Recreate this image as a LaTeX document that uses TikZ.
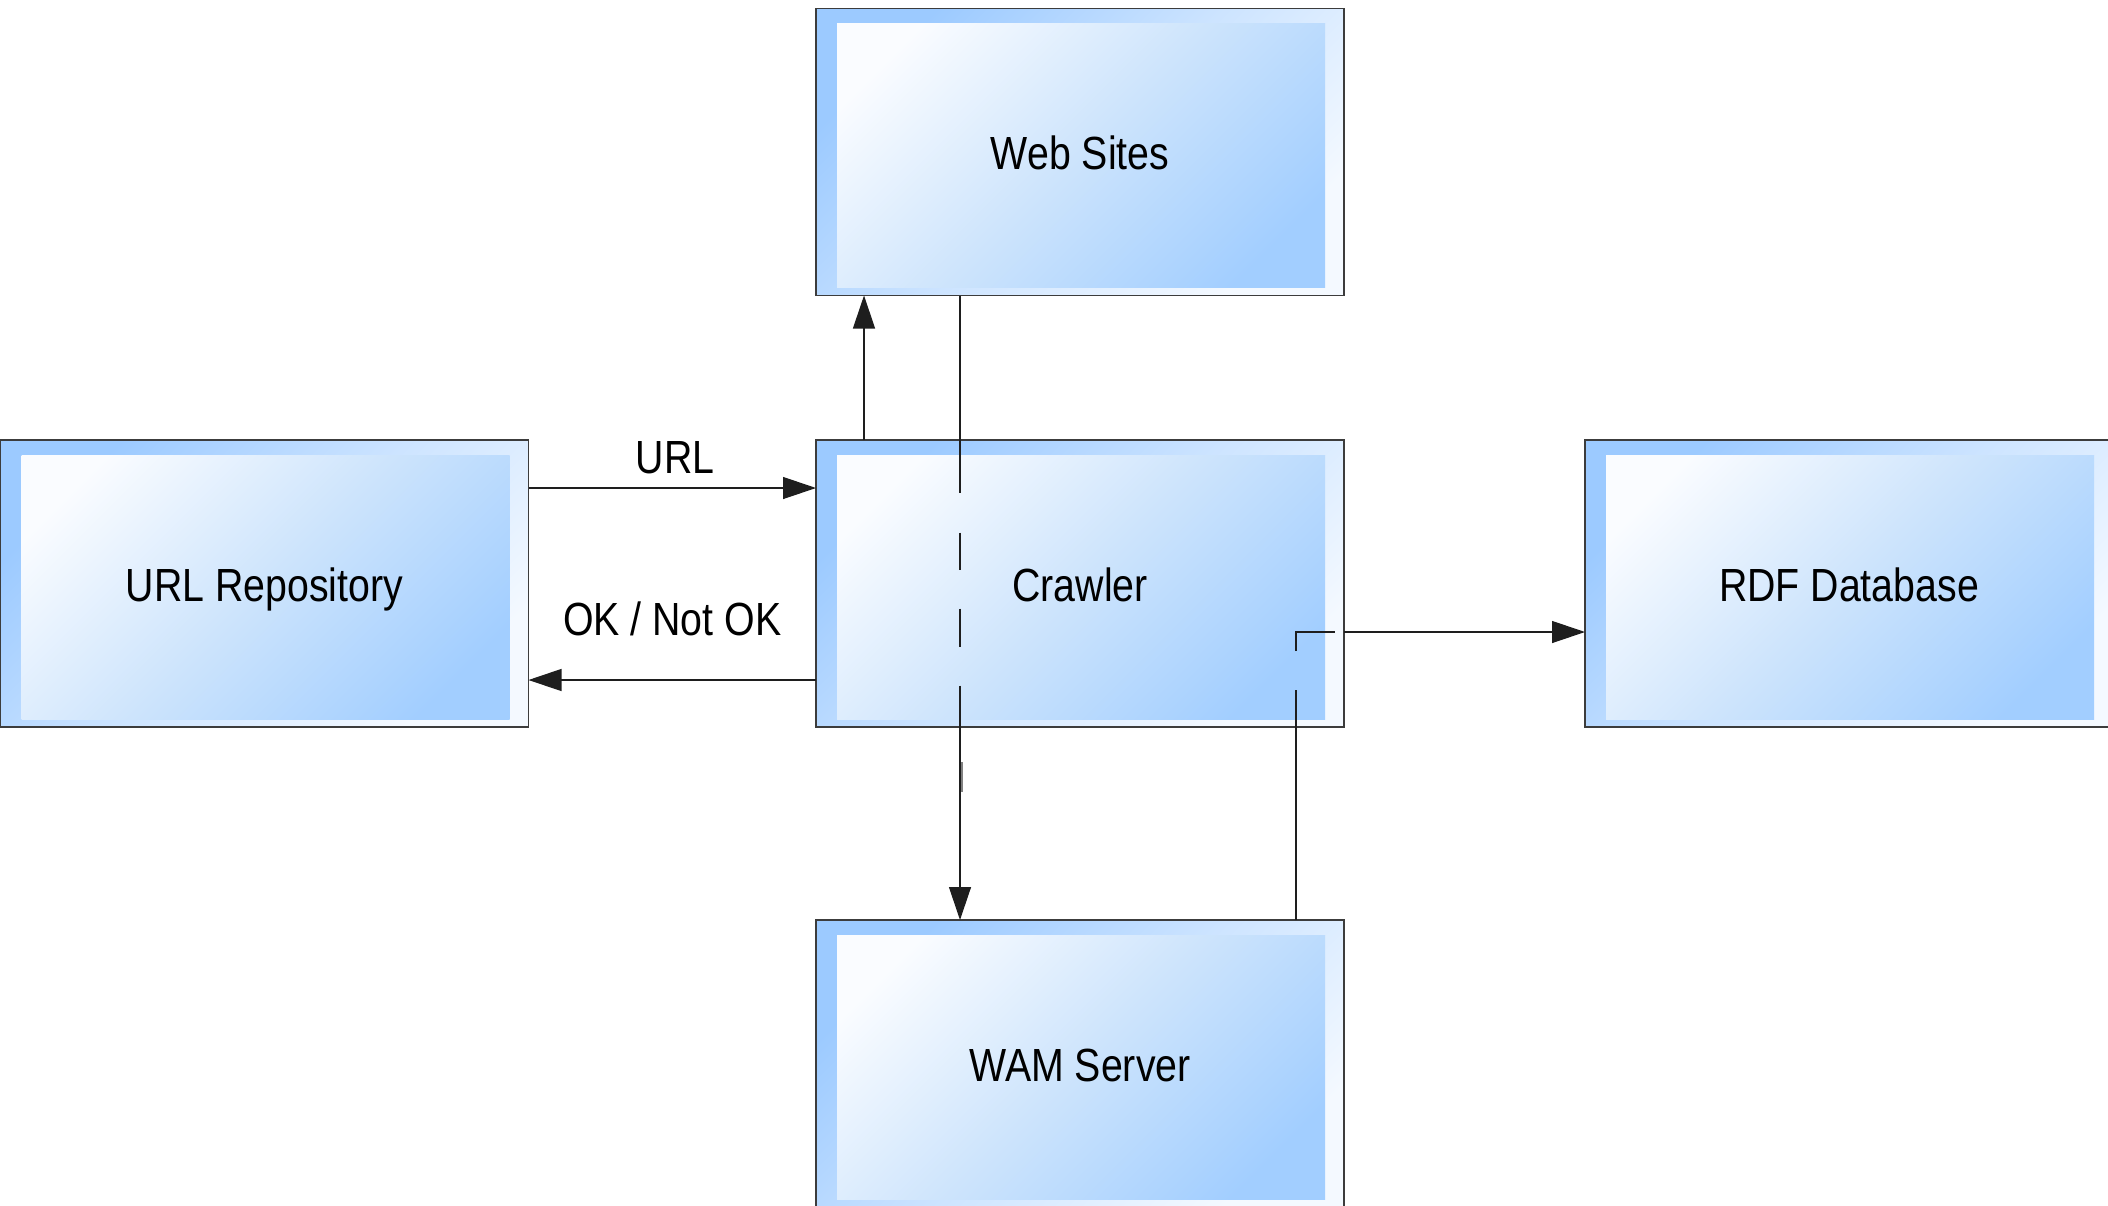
\documentclass[tikz,border=0pt]{standalone}
\usepackage{fontspec}
\setmainfont{Liberation Sans}[FakeStretch=0.845]
\usetikzlibrary{arrows.meta,calc}

\definecolor{frameblue}{RGB}{156,202,255}
\definecolor{framewhite}{RGB}{244,249,255}
\definecolor{innerwhite}{RGB}{250,252,255}
\definecolor{innermid}{RGB}{205,228,252}
\definecolor{innerblue}{RGB}{162,206,255}
\definecolor{edge}{RGB}{60,60,60}
\definecolor{wire}{RGB}{30,30,30}

\begin{document}
\begin{tikzpicture}[x=1pt,y=-1pt,
  box/.style={draw=edge, line width=1.4pt, minimum width=528pt, minimum height=287pt,
    inner sep=0pt, outer sep=0pt, text height=35pt, text depth=0pt,
    top color=frameblue, bottom color=framewhite, middle color=frameblue!45!framewhite,
    shading angle=45,
    font=\fontsize{46.5}{52}\selectfont,
    path picture={\shade[top color=innerwhite, bottom color=innerblue, middle color=innermid, shading angle=45]
      ([xshift=21pt,yshift=-15pt]path picture bounding box.north west) rectangle
      ([xshift=-19pt,yshift=8pt]path picture bounding box.south east);}},
  conn/.style={draw=wire, line width=1.2pt, -{Triangle[length=33pt,width=22pt]}},
  lbl/.style={font=\fontsize{46.5}{52}\selectfont, inner sep=0pt, anchor=base}]

\useasboundingbox (0,0) rectangle (2108,1205);
\clip (0,0) rectangle (2108,1205);

\node[box] (web) at (1080,152) {Web Sites};
\node[box] (crawler) at (1080,583.5) {Crawler};
\node[box] (url) at (264.5,583.5) {URL Repository};
\node[box] (rdf) at (1849,583.5) {RDF Database};
\node[box] (wam) at (1080,1063.5) {WAM Server};

% Crawler -> Web Sites
\draw[conn] ([xshift=48pt]crawler.north west) -- ([xshift=48pt]web.south west);

% Web Sites -> WAM Server (broken where it crosses the Crawler)
\draw[conn, dash pattern=on 197pt off 40pt on 37pt off 39pt on 38pt off 39pt on 400pt]
  ([xshift=144pt]web.south west) -- ([xshift=144pt]wam.north west);
\draw[gray, line width=1.2pt] ([xshift=146pt,yshift=-35pt]crawler.south west) -- ([xshift=146pt,yshift=-65pt]crawler.south west);

% URL Repository -> Crawler
\draw[conn] ([yshift=-48pt]url.north east) --
  node[lbl, midway, xshift=3pt, yshift=15pt] (lurl) {URL}
  ([yshift=-48pt]crawler.north west);

% Crawler -> URL Repository
\draw[conn] ([yshift=-240pt]crawler.north west) --
  node[lbl, midway, yshift=45pt] (lok) {OK / Not OK}
  ([yshift=-240pt]url.north east);

% WAM Server -> RDF Database
\draw[conn, dash pattern=on 230pt off 39pt on 58pt off 9pt on 400pt]
  ([xshift=480pt]wam.north west) |- ([yshift=-192pt]rdf.north west);

\end{tikzpicture}
\end{document}
